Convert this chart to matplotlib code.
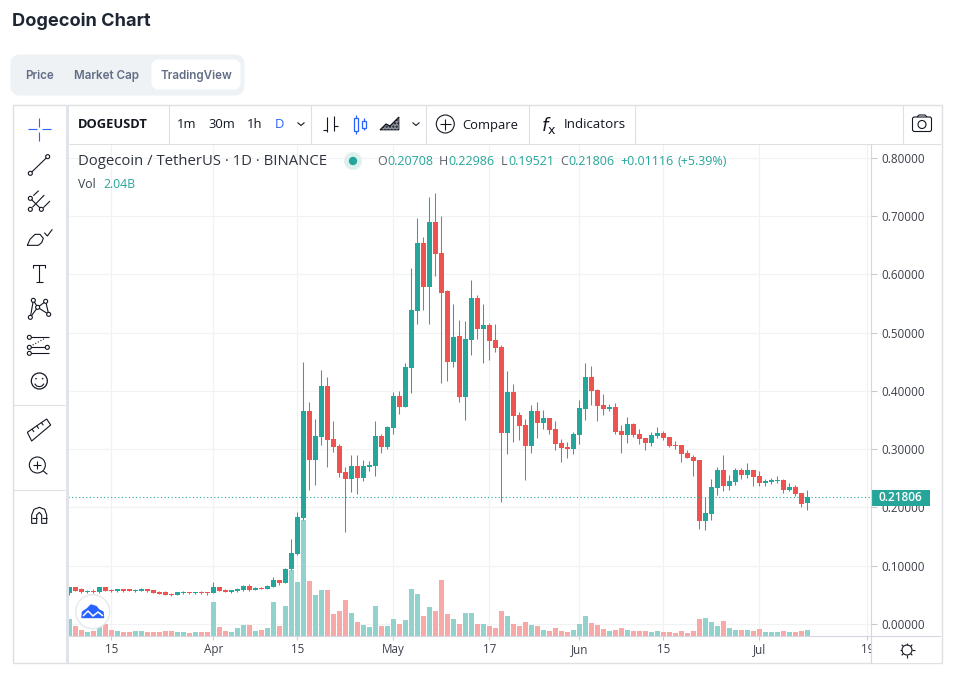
import matplotlib
matplotlib.use('Agg')
import matplotlib.pyplot as plt
from matplotlib.patches import FancyBboxPatch, Rectangle, Circle, Polygon

opens = [.0526,.0635,.0595,.0555,.0572,.0549,.0635,.0589,.0566,.0601,.0595,.0572,.0572,.0601,.0584,.0549,.0549,.0515,.0497,.0538,
 .0543,.0532,.0549,.0543,.0532,.0635,.0584,.0549,.0561,.0578,.0658,.0584,.0618,.0601,.0635,.0755,.0704,.0945,.1202,.1813,
 .3658,.2816,.3211,.4088,.3177,.3056,.2609,.2489,.2713,.2506,.2695,.2713,.3228,.3039,.3366,.3916,.3727,.4397,.5377,.6546,
 .5790,.6907,.6374,.5721,.4500,.4947,.3899,.4879,.5600,.5068,.5136,.4879,.4759,.3281,.3986,.3590,.3419,.3058,.3659,.3453,
 .3539,.3350,.3109,.3040,.3006,.3247,.3694,.4244,.4020,.3762,.3694,.3728,.3315,.3247,.3436,.3264,.3195,.3109,.3229,.3281,
 .3212,.3075,.3075,.2937,.2868,.2817,.1768,.1889,.2336,.2645,.2370,.2439,.2645,.2559,.2645,.2542,.2422,.2439,.2456,.2473,
 .2301,.2353,.2250,.20708]
highs = [.0629,.0635,.0612,.0589,.0595,.0635,.0635,.0606,.0601,.0601,.0606,.0606,.0618,.0606,.0584,.0566,.0566,.0526,.0543,.0566,
 .0555,.0555,.0566,.0555,.0721,.0635,.0595,.0584,.0618,.0675,.0687,.0629,.0635,.0664,.0801,.0755,.0962,.1454,.1919,.4500,
 .3813,.3520,.4363,.4242,.3486,.3091,.2695,.2902,.2902,.2816,.2798,.3486,.3263,.3400,.3985,.4002,.4483,.6116,.6976,.6649,
 .7337,.7405,.7010,.5738,.5497,.5222,.5205,.5910,.5652,.5497,.5171,.5154,.4794,.4347,.4123,.3642,.3522,.3762,.3814,.3676,
 .3539,.3487,.3178,.3126,.3298,.3848,.4484,.4433,.4037,.3951,.3780,.3797,.3419,.3556,.3453,.3350,.3195,.3298,.3384,.3315,
 .3212,.3144,.3075,.2989,.2903,.2817,.2181,.2490,.2697,.2903,.2559,.2679,.2679,.2765,.2645,.2628,.2490,.2507,.2542,.2490,
 .2422,.2387,.2250,.22986]
lows = [.0503,.0561,.0538,.0532,.0532,.0532,.0566,.0543,.0549,.0555,.0561,.0555,.0566,.0549,.0532,.0509,.0497,.0486,.0497,.0515,
 .0515,.0515,.0515,.0492,.0532,.0561,.0543,.0532,.0543,.0566,.0566,.0578,.0595,.0595,.0629,.0669,.0704,.0927,.1185,.1784,
 .2300,.2386,.3074,.2695,.2953,.2524,.1578,.2265,.2231,.2455,.2627,.2541,.2936,.3005,.3263,.3607,.3727,.3968,.5154,.5394,
 .5154,.5979,.4139,.4174,.4414,.3813,.3503,.4621,.4896,.4483,.4535,.4672,.2095,.2920,.3126,.3161,.2473,.2937,.3195,.3350,
 .3264,.2989,.2782,.2851,.2920,.3092,.3505,.3762,.3487,.3590,.3659,.3264,.2937,.3109,.3212,.3092,.2989,.3058,.3195,.3161,
 .3040,.3006,.2782,.2851,.2542,.1631,.1614,.1785,.2215,.2284,.2301,.2387,.2490,.2507,.2370,.2370,.2370,.2404,.2422,.2250,
 .2284,.2198,.2009,.19521]
closes = [.0629,.0561,.0549,.0572,.0555,.0635,.0566,.0566,.0601,.0566,.0572,.0589,.0601,.0566,.0532,.0520,.0497,.0503,.0543,.0549,
 .0532,.0543,.0532,.0532,.0635,.0561,.0555,.0584,.0606,.0652,.0578,.0618,.0601,.0652,.0755,.0704,.0945,.1220,.1838,.3658,
 .2816,.3228,.4088,.3160,.3039,.2592,.2489,.2713,.2506,.2713,.2730,.3228,.3039,.3383,.3916,.3727,.4414,.5394,.6546,.5790,
 .6907,.6357,.5686,.4500,.4930,.3899,.4896,.5600,.5068,.5136,.4861,.4741,.3281,.3986,.3573,.3401,.3058,.3659,.3453,.3539,
 .3333,.3092,.3023,.3006,.3264,.3711,.4244,.4003,.3745,.3694,.3728,.3298,.3247,.3436,.3247,.3178,.3109,.3247,.3281,.3195,
 .3058,.3063,.2920,.2851,.2800,.1768,.1906,.2353,.2645,.2370,.2456,.2645,.2559,.2645,.2525,.2422,.2456,.2473,.2473,.2301,
 .2353,.2232,.2061,.21806]
volumes_b = [6.5,3.8,2.3,1.5,1.9,3.5,4.6,2.3,1.9,1.2,1.5,1.9,1.9,1.5,1.5,1.5,1.9,1.9,1.2,1.2,
 .8,1.2,1.5,1.2,12.7,3.1,1.9,1.5,2.7,4.2,4.2,1.9,2.3,2.7,12.7,3.8,11.5,25.0,20.4,44.2,
 20.8,15.4,17.3,17.3,8.1,9.6,13.8,8.8,5.0,4.2,3.1,11.2,3.8,3.8,6.2,4.6,5.8,17.7,15.8,7.3,
 10.8,9.6,21.5,8.1,6.5,4.6,8.8,8.8,4.6,4.6,3.8,2.7,9.6,7.3,4.6,3.5,5.0,4.2,3.5,2.3,
 1.9,2.7,1.9,1.5,2.0,4.3,7.4,4.7,4.0,2.4,1.7,2.0,2.8,2.0,1.7,1.7,1.7,1.3,1.7,1.3,
 1.3,.9,1.7,.9,1.7,6.3,6.7,5.1,3.6,5.5,2.8,2.0,2.0,2.0,1.7,2.4,1.3,1.3,1.3,1.7,
 1.3,1.3,1.7,2.04]
x_ticks = [7, 24, 38, 54, 70, 85, 99, 115, 133]
x_tick_labels = ['15', 'Apr', '15', 'May', '17', 'Jun', '15', 'Jul', '19']
y_ticks = [0.0, 0.1, 0.2, 0.3, 0.4, 0.5, 0.6, 0.7, 0.8]
last_price = 0.21806

GREEN, RED, INK = '#26a69a', '#ef5350', '#131722'
GRID, BORDER = '#f1f2f4', '#dfe0e4'
UI = 'Open Sans'
W, H = 959, 683
plt.rcParams['font.family'] = [UI, 'DejaVu Sans']

fig = plt.figure(figsize=(W/100, H/100), dpi=100, facecolor='white')

def rect(l, t, r, b):
    return [l/W, 1-b/H, (r-l)/W, (b-t)/H]

# price pane
ax = fig.add_axes(rect(68, 143.5, 871.3, 635.5), zorder=1)
ax.set_xlim(-0.217, 133.67)
ax.set_ylim(-0.01976, 0.8247)
for s in ax.spines.values():
    s.set_visible(False)
ax.set_xticks(x_ticks, x_tick_labels)
ax.set_yticks(y_ticks, [f'{v:.5f}' for v in y_ticks])
ax.yaxis.tick_right()
ax.tick_params(axis='y', length=4, width=.8, color='#c8cbd3', labelcolor='#3c404a', labelsize=8.4, pad=3.5)
ax.tick_params(axis='x', length=3, width=.8, color='#c8cbd3', labelcolor='#3c404a', labelsize=8.4, pad=2.5)
ax.grid(True, color=GRID, lw=.85)
ax.set_axisbelow(True)

# volume pane, same box
vax = fig.add_axes(rect(68, 143.5, 871.3, 635.5), zorder=2, sharex=ax)
vax.patch.set_alpha(0)
vax.set_ylim(0, 189)
vax.axis('off')
days = list(range(len(opens)))
vol_col = ['#92d2cc' if c >= o else '#f7a9a7' for o, c in zip(opens, closes)]
vax.bar(days, volumes_b, width=.83, color=vol_col, linewidth=0)

# candles
cax = fig.add_axes(rect(68, 143.5, 871.3, 635.5), zorder=3, sharex=ax)
cax.patch.set_alpha(0)
cax.set_ylim(ax.get_ylim())
cax.axis('off')
col = [GREEN if c >= o else RED for o, c in zip(opens, closes)]
wicks = cax.vlines(days, lows, highs, colors=col, lw=.75)
wicks.set_snap(True)
bottoms = [min(o, c) for o, c in zip(opens, closes)]
heights = [max(abs(c-o), .0012) for o, c in zip(opens, closes)]
cax.bar(days, heights, bottom=bottoms, width=.83, color=col, linewidth=0)
cax.axhline(last_price, color=GREEN, lw=.8, ls=(0, (1, 2.2)))

# page chrome in pixel coordinates
ui = fig.add_axes([0, 0, 1, 1], zorder=5)
ui.set_xlim(0, W)
ui.set_ylim(H, 0)
ui.axis('off')
ui.patch.set_alpha(0)

def line(xs, ys, c=INK, lw=.8, **k):
    ui.plot(xs, ys, color=c, lw=lw, solid_capstyle='butt', **k)

def txt(x, y, s, size=9, c=INK, ha='left', weight='normal', family=UI):
    ui.text(x, y+1, s, fontsize=size, color=c, ha=ha, va='center', fontweight=weight, family=family)

txt(11.5, 20, 'Dogecoin Chart', 13.1, '#1f2633', weight='bold', family='Inter')
ui.add_patch(FancyBboxPatch((16, 60), 223, 30, boxstyle='round,pad=0,rounding_size=4', fc='#eff2f5', ec='#eff2f5', lw=8))
ui.add_patch(FancyBboxPatch((155, 63), 82, 23, boxstyle='round,pad=0,rounding_size=3', fc='white', ec='white', lw=5))
for x, s in [(39, 'Price'), (107, 'Market Cap'), (196, 'TradingView')]:
    txt(x, 75, s, 8.4, '#616e85', ha='center', weight='semibold', family='Inter')

# frame
ui.add_patch(Rectangle((12.5, 104.5), 929, 558.5, fc='none', ec=BORDER, lw=1))
ui.add_patch(Rectangle((65.5, 105), 3.5, 558, fc='#e0e3eb', ec='none'))
line([69, 941], [143.5, 143.5], BORDER, .8)
line([871.3, 871.3], [143.5, 663], '#d5d8e0', .8)
line([69, 941], [635.5, 635.5], '#d5d8e0', .8)
ui.add_patch(Rectangle((872, 636), 69, 26.5, fc='white', ec='none'))
line([871.3, 871.3], [636, 663], '#d5d8e0', .8)
for x in [169.3, 311.3, 426.3, 528.7, 635.3, 902.7]:
    line([x, x], [105, 143.5], BORDER, .8)
for y in [405, 490]:
    line([13, 65], [y, y], BORDER, .8)

# toolbar
txt(78, 124, 'DOGEUSDT', 9.3, weight='bold')
for x, s, c in [(187, '1m', INK), (222, '30m', INK), (255, '1h', INK), (279, 'D', '#2962ff')]:
    txt(x, 124, s, 9.4, c, ha='center')
for x in [301, 416]:
    line([x-3.5, x, x+3.5], [122.5, 125.5, 122.5], INK, .8)
line([327, 327], [117, 132]); line([323, 327], [130, 130])
line([334, 334], [116, 131]); line([334, 338], [126, 126])
for x0, y0, y1, yb0, yb1 in [(356, 114.5, 134, 118, 131), (364, 118, 130, 121, 128)]:
    line([x0, x0], [y0, y1], '#2962ff', .9)
    ui.add_patch(Rectangle((x0-2, yb0), 4, yb1-yb0, fc='white', ec='#2962ff', lw=.9, zorder=4))
ui.add_patch(Polygon([(380, 130), (386, 124), (390, 126), (399, 117), (399, 130)], fc='#8c8f97', ec=INK, lw=.5, hatch='.....'))
line([380, 386, 390, 399], [130, 124, 126, 117], INK, .8)
ui.add_patch(Circle((445.3, 124), 9, fc='none', ec=INK, lw=.8))
line([440, 451], [124, 124]); line([445.3, 445.3], [118.5, 129.5])
txt(462, 124, 'Compare', 9.4)
txt(541, 124, r'$f_{\mathrm{x}}$', 13, family='DejaVu Serif')
txt(564, 124, 'Indicators', 9.6)
ui.add_patch(FancyBboxPatch((912.5, 117), 19, 14.5, boxstyle='round,pad=0,rounding_size=2', fc='none', ec=INK, lw=.8))
ui.add_patch(Circle((922, 124.5), 4, fc='none', ec=INK, lw=.8))
line([917, 919, 925, 927], [117, 115, 115, 117])

# chart legend
txt(78, 160.5, 'Dogecoin / TetherUS · 1D · BINANCE', 10.7, '#2f333d')
ui.add_patch(Circle((353, 161), 9, fc='#dff1ef', ec='none'))
ui.add_patch(Circle((353, 161), 4.2, fc=GREEN, ec='none'))
for x, s, c in [(377.5, 'O', '#5d606b'), (387, '0.20708', GREEN), (439, 'H', '#5d606b'), (448, '0.22986', GREEN),
                (500.5, 'L', '#5d606b'), (508, '0.19521', GREEN), (560, 'C', '#5d606b'), (568.5, '0.21806', GREEN),
                (620.5, '+0.01116', GREEN), (677, '(+5.39%)', GREEN)]:
    txt(x, 160.5, s, 9.0, c)
txt(78, 183.5, 'Vol', 8.8, '#3c404a')
txt(103.5, 183.5, '2.04B', 8.8, GREEN)

# last price badge
ui.add_patch(Rectangle((871, 489.5), 59, 16, fc=GREEN, ec='none'))
txt(900.5, 496.5, f'{last_price:.5f}', 8.6, 'white', ha='center', weight='semibold')

# gear
ui.add_patch(Circle((907, 650), 5, fc='none', ec=INK, lw=.8))
for dx, dy in [(0, -7.5), (0, 7.5), (-7.5, 0), (7.5, 0), (5.3, 5.3), (-5.3, 5.3), (5.3, -5.3), (-5.3, -5.3)]:
    line([907+dx*.7, 907+dx], [650+dy*.7, 650+dy], INK, .8)

# logo badge
ui.add_patch(Circle((92.7, 611.7), 17, fc='white', ec='#e6e8ee', lw=1))
ui.add_patch(Polygon([(82, 617.5), (82.5, 612), (87, 609), (91, 605), (96, 606.5), (99, 610), (103, 612), (103.5, 617.5)],
                     fc='#2962ff', ec='#2962ff', lw=1, joinstyle='round'))
line([83, 88, 93, 98, 103], [616, 611, 616, 612, 616], 'white', 1.1)

# drawing tools, from the left rail
def Z(x, y):
    return 10+x/3, 100+y/3

def zl(pts, c=INK, lw=.8, **k):
    xs, ys = zip(*[Z(*p) for p in pts])
    line(list(xs), list(ys), c, lw, **k)

def zc(x, y, r, lw=.8):
    ui.add_patch(Circle(Z(x, y), r, fc='white', ec=INK, lw=lw, zorder=4))

B = '#2962ff'
zl([(54, 88), (80, 88)], B); zl([(96, 88), (122, 88)], B); zl([(88, 54), (88, 80)], B); zl([(88, 96), (88, 122)], B)
zl([(61, 220), (113, 170)]); zc(61, 220, 2); zc(113, 170, 2)
zl([(70, 287), (86, 272)]); zl([(67, 322), (103, 285)]); zl([(100, 323), (120, 303)]); zl([(61, 295), (94, 328)])
zc(61, 295, 2); zc(61, 328, 2); zc(94, 328, 2)
zl([(52, 436), (60, 418), (75, 403), (90, 403), (100, 415), (95, 428), (85, 436), (52, 436)]); zl([(103, 398), (112, 408), (127, 388)])
zl([(70, 505), (70, 495), (106, 495), (106, 505)]); zl([(88, 495), (88, 545)]); zl([(78, 545), (98, 545)])
nodes = [(61, 652), (70, 601), (83, 622), (107, 604), (116, 643)]
for a, b in [(0, 1), (0, 2), (1, 2), (2, 3), (2, 4), (3, 4)]:
    zl([nodes[a], nodes[b]])
for n in nodes:
    zc(n[0], n[1], 2)
for y in (712, 742, 760):
    zl([(58, y), (116, y)])
zl([(68, 735), (105, 715)], ls=':')
zc(58, 712, 2); zc(58, 742, 2); zc(112, 742, 2); zc(58, 760, 2)
ui.add_patch(Circle(Z(88, 843), 8, fc='none', ec=INK, lw=.9))
ui.add_patch(Circle(Z(78, 836), .8, fc=INK, ec='none')); ui.add_patch(Circle(Z(98, 836), .8, fc=INK, ec='none'))
zl([(74, 851), (80, 858), (88, 860), (96, 858), (102, 851)])
zl([(52, 997), (110, 957), (122, 975), (65, 1023), (52, 997)])
for a, b, p, q in [(66, 987, 72, 996), (80, 977, 86, 986), (94, 967, 100, 976)]:
    zl([(a, b), (p, q)])
ui.add_patch(Circle(Z(82, 1095), 8, fc='none', ec=INK, lw=.8))
zl([(70, 1095), (94, 1095)]); zl([(82, 1083), (82, 1107)]); zl([(100, 1113), (112, 1123)])
zl([(65, 1270), (65, 1245), (72, 1228), (88, 1222), (104, 1228), (110, 1245), (110, 1270), (95, 1270), (95, 1245), (88, 1237), (80, 1245), (80, 1270), (65, 1270)])
zl([(65, 1255), (80, 1255)]); zl([(95, 1255), (110, 1255)])

fig.savefig('out.png', dpi=100)
